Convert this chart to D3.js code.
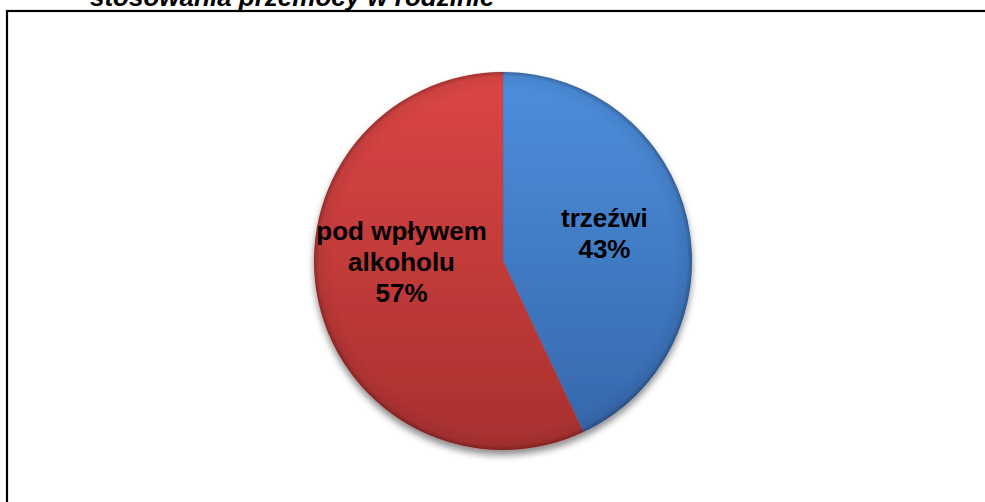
<!DOCTYPE html>
<html>
<head>
<meta charset="utf-8">
<script src="https://cdn.jsdelivr.net/npm/d3@7"></script>
<style>
  html, body { margin: 0; padding: 0; background: #fff; overflow: hidden; }
  svg { display: block; }
</style>
</head>
<body>
<svg id="chart" width="985" height="502"></svg>
<script>
// ---- data ----
const titleText = "stosowania przemocy w rodzinie";
const categories = ["trzeźwi", "pod wpływem alkoholu"];
const labelLines = [["trzeźwi"], ["pod wpływem", "alkoholu"]];
const values = [43, 57];
const colorsTop = ["#4d8fdd", "#dc4644"];
const colorsBottom = ["#3566aa", "#a8302f"];

// ---- layout ----
const W = 985, H = 502;
const cx = 503, cy = 261, R = 189;

const svg = d3.select("#chart");
const defs = svg.append("defs");

// frame
svg.append("rect")
  .attr("x", 7).attr("y", 11)
  .attr("width", W + 20).attr("height", H + 20)
  .attr("fill", "none").attr("stroke", "#000").attr("stroke-width", 2.2);

// title (cut off at top, as in the reference)
svg.append("text")
  .attr("x", 90).attr("y", 6)
  .attr("font-family", "Liberation Sans, Arial, sans-serif")
  .attr("font-weight", "bold").attr("font-style", "italic")
  .attr("font-size", 26)
  .text(titleText);

// gradients
values.forEach((v, i) => {
  const g = defs.append("linearGradient")
    .attr("id", "grad" + i)
    .attr("gradientUnits", "userSpaceOnUse")
    .attr("x1", 0).attr("y1", -R).attr("x2", 0).attr("y2", R);
  g.append("stop").attr("offset", "0%").attr("stop-color", colorsTop[i]);
  g.append("stop").attr("offset", "100%").attr("stop-color", colorsBottom[i]);
});
const rg = defs.append("radialGradient")
  .attr("id", "edge")
  .attr("gradientUnits", "userSpaceOnUse")
  .attr("cx", 0).attr("cy", 0).attr("r", R);
rg.append("stop").attr("offset", "0.9").attr("stop-color", "#000").attr("stop-opacity", 0);
rg.append("stop").attr("offset", "0.975").attr("stop-color", "#000").attr("stop-opacity", 0.06);
rg.append("stop").attr("offset", "1").attr("stop-color", "#000").attr("stop-opacity", 0.28);

const shadow = defs.append("filter").attr("id", "shadow")
  .attr("x", "-20%").attr("y", "-20%").attr("width", "140%").attr("height", "140%");
shadow.append("feGaussianBlur").attr("in", "SourceAlpha").attr("stdDeviation", 3.5).attr("result", "b");
shadow.append("feOffset").attr("in", "b").attr("dx", 0).attr("dy", 5).attr("result", "o");
shadow.append("feComponentTransfer").attr("in", "o").attr("result", "s")
  .append("feFuncA").attr("type", "linear").attr("slope", 0.45);
const m = shadow.append("feMerge");
m.append("feMergeNode").attr("in", "s");
m.append("feMergeNode").attr("in", "SourceGraphic");

const pie = d3.pie().sort(null).value(d => d)(values);
const arc = d3.arc().innerRadius(0).outerRadius(R);

const g = svg.append("g").attr("transform", `translate(${cx},${cy})`);

const slices = g.append("g").attr("filter", "url(#shadow)");
slices.selectAll("path.slice")
  .data(pie)
  .join("path")
  .attr("class", "slice")
  .attr("d", arc)
  .attr("fill", (d, i) => `url(#grad${i})`)
  .attr("stroke", (d, i) => colorsBottom[i])
  .attr("stroke-opacity", 0.25)
  .attr("stroke-width", 0.6);

g.append("circle").attr("r", R).attr("fill", "url(#edge)");

// labels
const labelArc = d3.arc().innerRadius(R * 0.55).outerRadius(R * 0.55);
const lineH = 31;
pie.forEach((d, i) => {
  const [lx, ly0] = labelArc.centroid(d);
  const ly = ly0 * 0.64 - 13.5;
  const lines = labelLines[i].concat([values[i] + "%"]);
  const t = g.append("text")
    .attr("text-anchor", "middle")
    .attr("font-family", "Liberation Sans, Arial, sans-serif")
    .attr("font-weight", "bold")
    .attr("font-size", 26)
    .attr("fill", "#000");
  lines.forEach((ln, j) => {
    t.append("tspan")
      .attr("x", lx)
      .attr("y", ly + (j - (lines.length - 1) / 2) * lineH + 9)
      .text(ln);
  });
});
</script>
</body>
</html>
